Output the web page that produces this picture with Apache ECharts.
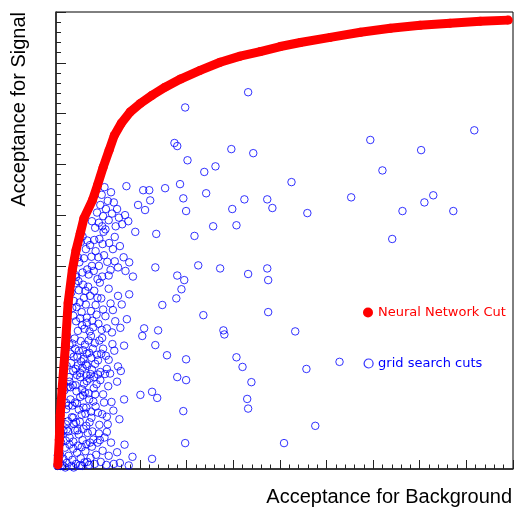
<!DOCTYPE html>
<html>
<head>
<meta charset="utf-8">
<script src="https://cdn.jsdelivr.net/npm/echarts@6/dist/echarts.min.js"></script>
<style>
  html, body { margin: 0; padding: 0; background: #fff; }
  #chart { width: 514px; height: 510px; }
</style>
</head>
<body>
<div id="chart"></div>
<script>
// ROC-style comparison: signal acceptance vs background acceptance.
const seriesNames = ['Neural Network Cut', 'grid search cuts'];
const xTitle = 'Acceptance for Background';
const yTitle = 'Acceptance for Signal';

// axis ranges (no tick labels are drawn)
const xRange = [0.02, 1.0];
const yRange = [0.1, 1.0];

// neural network working points [background acc, signal acc]
const nnCut = [
  [0.024,0.108],[0.027,0.157],[0.029,0.206],[0.033,0.256],[0.040,0.340],
  [0.046,0.427],[0.055,0.492],[0.063,0.531],[0.072,0.564],[0.080,0.594],
  [0.098,0.629],[0.109,0.659],[0.121,0.694],[0.134,0.728],[0.145,0.757],
  [0.160,0.781],[0.179,0.803],[0.201,0.820],[0.226,0.836],[0.254,0.852],
  [0.287,0.868],[0.329,0.885],[0.372,0.901],[0.415,0.913],[0.458,0.922],
  [0.501,0.932],[0.544,0.940],[0.608,0.950],[0.673,0.960],[0.737,0.968],
  [0.801,0.974],[0.865,0.978],[0.930,0.982],[0.990,0.984]
];

// grid search working points, sparse region
const gridCutsWide = [
  [0.432,0.842],[0.297,0.812],[0.917,0.767],[0.694,0.748],[0.274,0.742],[0.280,0.736],
  [0.396,0.730],[0.443,0.722],[0.803,0.728],[0.720,0.688],[0.302,0.708],[0.362,0.696],
  [0.338,0.685],[0.286,0.661],[0.254,0.653],[0.525,0.665],[0.207,0.649],[0.220,0.649],
  [0.171,0.657],[0.653,0.635],[0.829,0.639],[0.810,0.625],[0.424,0.631],[0.473,0.631],
  [0.342,0.643],[0.293,0.633],[0.222,0.629],[0.196,0.620],[0.299,0.608],[0.398,0.612],
  [0.484,0.614],[0.559,0.604],[0.763,0.608],[0.872,0.608],[0.357,0.578],[0.407,0.580],
  [0.741,0.553],[0.317,0.559],[0.235,0.563],[0.190,0.567],[0.211,0.610],[0.325,0.501],
  [0.372,0.495],[0.432,0.484],[0.473,0.495],[0.475,0.472],[0.233,0.497],[0.280,0.481],
  [0.295,0.472],[0.289,0.454],[0.278,0.436],[0.248,0.423],[0.475,0.409],[0.336,0.403],
  [0.379,0.373],[0.381,0.365],[0.533,0.371],[0.209,0.377],[0.205,0.362],[0.239,0.373],
  [0.233,0.344],[0.258,0.324],[0.299,0.316],[0.407,0.320],[0.420,0.301],[0.557,0.297],
  [0.628,0.311],[0.280,0.281],[0.299,0.275],[0.439,0.271],[0.226,0.252],[0.237,0.240],
  [0.201,0.246],[0.293,0.214],[0.430,0.238],[0.432,0.219],[0.576,0.185],[0.297,0.151],
  [0.509,0.151],[0.226,0.120]
];

// grid search working points, dense low-background region
const gridCutsDense = [
  [0.108,0.605],[0.115,0.620],[0.121,0.598],[0.127,0.612],[0.133,0.590],[0.140,0.603],
  [0.112,0.585],[0.119,0.578],[0.126,0.572],[0.148,0.578],[0.155,0.595],[0.162,0.582],
  [0.104,0.575],[0.118,0.640],[0.124,0.655],[0.131,0.628],[0.138,0.645],[0.168,0.600],
  [0.175,0.588],[0.097,0.588],[0.144,0.625],[0.151,0.612],
  [0.073,0.547],[0.077,0.558],[0.084,0.533],[0.087,0.550],[0.093,0.541],[0.096,0.518],
  [0.102,0.551],[0.105,0.529],[0.111,0.517],[0.113,0.553],[0.120,0.543],[0.123,0.521],
  [0.130,0.508],[0.134,0.545],[0.142,0.533],[0.146,0.509],[0.153,0.497],[0.157,0.539],
  [0.165,0.517],[0.169,0.490],[0.177,0.507],[0.067,0.517],[0.070,0.507],[0.077,0.487],
  [0.080,0.515],[0.087,0.493],[0.090,0.483],[0.097,0.500],[0.101,0.490],[0.109,0.474],
  [0.112,0.500],[0.119,0.479],[0.122,0.567],[0.133,0.481],[0.137,0.492],[0.185,0.479],
  [0.146,0.557],[0.061,0.482],[0.063,0.478],
  [0.053,0.448],[0.058,0.431],[0.061,0.466],[0.064,0.419],[0.069,0.452],[0.071,0.428],
  [0.075,0.409],[0.078,0.463],[0.080,0.437],[0.084,0.424],[0.086,0.398],[0.089,0.459],
  [0.093,0.441],[0.095,0.411],[0.098,0.392],[0.102,0.451],[0.105,0.423],[0.107,0.404],
  [0.111,0.386],[0.114,0.467],[0.117,0.436],[0.121,0.414],[0.126,0.401],[0.129,0.377],
  [0.133,0.455],[0.137,0.426],[0.142,0.413],[0.147,0.391],[0.153,0.441],[0.158,0.378],
  [0.161,0.424],[0.172,0.395],[0.177,0.444],[0.057,0.402],[0.063,0.391],[0.067,0.372],
  [0.072,0.397],[0.076,0.383],[0.081,0.376],[0.086,0.388],[0.092,0.371],[0.100,0.379],
  [0.118,0.374],[0.140,0.369],[0.055,0.417],[0.068,0.470],[0.083,0.451],[0.109,0.437],
  [0.044,0.362],[0.049,0.344],[0.051,0.327],[0.052,0.309],[0.057,0.293],[0.060,0.357],
  [0.061,0.337],[0.066,0.321],[0.067,0.304],[0.072,0.289],[0.073,0.352],[0.078,0.334],
  [0.079,0.317],[0.084,0.306],[0.085,0.284],[0.090,0.353],[0.091,0.329],[0.096,0.319],
  [0.097,0.296],[0.102,0.281],[0.103,0.348],[0.108,0.325],[0.110,0.314],[0.115,0.291],
  [0.119,0.358],[0.121,0.337],[0.127,0.323],[0.129,0.297],[0.136,0.288],[0.141,0.346],
  [0.145,0.333],[0.153,0.302],[0.159,0.293],[0.166,0.343],[0.043,0.303],[0.048,0.281],
  [0.058,0.321],[0.065,0.285],[0.074,0.312],[0.082,0.345],[0.087,0.303],[0.095,0.362],
  [0.104,0.307],[0.110,0.286],[0.117,0.327],[0.125,0.287],[0.133,0.315],[0.055,0.347],
  [0.062,0.297],[0.069,0.333],[0.077,0.299],[0.086,0.327],[0.094,0.287],[0.099,0.337],
  [0.113,0.353],
  [0.037,0.267],[0.038,0.255],[0.042,0.230],[0.042,0.218],[0.046,0.194],[0.049,0.272],
  [0.051,0.261],[0.051,0.237],[0.055,0.225],[0.057,0.201],[0.058,0.189],[0.062,0.265],
  [0.064,0.253],[0.065,0.229],[0.069,0.217],[0.071,0.193],[0.072,0.281],[0.076,0.257],
  [0.078,0.245],[0.079,0.221],[0.083,0.209],[0.085,0.185],[0.086,0.273],[0.090,0.249],
  [0.091,0.237],[0.095,0.213],[0.096,0.201],[0.101,0.259],[0.104,0.247],[0.105,0.223],
  [0.110,0.211],[0.113,0.187],[0.115,0.275],[0.121,0.247],[0.123,0.231],[0.129,0.203],
  [0.132,0.263],[0.139,0.232],[0.143,0.215],[0.151,0.272],[0.156,0.198],[0.166,0.237],
  [0.041,0.188],[0.047,0.225],[0.056,0.265],[0.063,0.192],[0.072,0.242],[0.080,0.268],
  [0.085,0.221],[0.092,0.192],[0.100,0.233],[0.107,0.267],[0.119,0.208],[0.131,0.188],
  [0.045,0.261],[0.054,0.202],[0.061,0.231],[0.075,0.207],[0.082,0.251],[0.092,0.278],
  [0.026,0.117],[0.029,0.128],[0.031,0.152],[0.031,0.166],[0.035,0.107],[0.036,0.120],
  [0.039,0.142],[0.041,0.156],[0.043,0.178],[0.043,0.112],[0.047,0.126],[0.049,0.148],
  [0.049,0.162],[0.053,0.106],[0.055,0.118],[0.057,0.140],[0.057,0.154],[0.061,0.176],
  [0.063,0.110],[0.065,0.132],[0.067,0.146],[0.069,0.168],[0.071,0.107],[0.073,0.121],
  [0.075,0.143],[0.077,0.157],[0.079,0.179],[0.081,0.113],[0.083,0.135],[0.085,0.149],
  [0.088,0.171],[0.091,0.108],[0.094,0.122],[0.097,0.144],[0.100,0.158],[0.103,0.110],
  [0.106,0.128],[0.109,0.152],[0.112,0.170],[0.116,0.114],[0.120,0.136],[0.124,0.162],
  [0.128,0.108],[0.133,0.126],[0.138,0.152],[0.144,0.110],[0.151,0.133],[0.157,0.112],
  [0.167,0.148],[0.176,0.107],[0.184,0.124],[0.036,0.176],[0.046,0.174],[0.066,0.176],
  [0.087,0.114],[0.098,0.174],[0.114,0.157],[0.129,0.173],[0.023,0.106],[0.024,0.127],
  [0.030,0.106],[0.040,0.103],[0.058,0.103],[0.076,0.106],[0.093,0.152]
];

const gridCuts = gridCutsWide.concat(gridCutsDense);

const RED = '#ff0000';
const BLUE = '#0000ff';
const AXIS = '#222222';

const chart = echarts.init(document.getElementById('chart'), null, { renderer: 'canvas' });

chart.setOption({
  animation: false,
  backgroundColor: '#ffffff',
  grid: {
    left: 56, top: 12, right: 1, bottom: 41,
    show: true, borderColor: '#000', borderWidth: 1, backgroundColor: 'transparent'
  },
  xAxis: [
    {
      // data axis, carries the short (minor) ticks
      type: 'value', min: xRange[0], max: xRange[1], interval: 0.02,
      position: 'bottom',
      axisLine: { show: true, onZero: false, lineStyle: { color: AXIS, width: 1.5 } },
      axisTick: { show: true, inside: true, length: 4.5, lineStyle: { color: AXIS, width: 1 } },
      axisLabel: { show: false }, splitLine: { show: false }
    },
    {
      // major ticks counted from the right-hand end
      type: 'value', inverse: true, min: 0, max: xRange[1] - xRange[0], interval: 0.1,
      position: 'bottom',
      axisLine: { show: false },
      axisTick: { show: true, inside: true, length: 9, lineStyle: { color: AXIS, width: 1 } },
      axisLabel: { show: false }, splitLine: { show: false }
    }
  ],
  yAxis: {
    type: 'value', min: yRange[0], max: yRange[1], interval: 0.1,
    axisLine: { show: true, onZero: false, lineStyle: { color: AXIS, width: 1.5 } },
    axisTick: { show: true, inside: true, length: 10, lineStyle: { color: AXIS, width: 1 } },
    minorTick: { show: true, splitNumber: 5, length: 5, lineStyle: { color: AXIS, width: 1 } },
    axisLabel: { show: false }, splitLine: { show: false }, minorSplitLine: { show: false }
  },
  legend: [
    {
      data: [{ name: seriesNames[0], icon: 'circle' }],
      left: 363, top: 306, padding: 0, itemWidth: 10, itemHeight: 10, selectedMode: false,
      textStyle: { color: RED, fontFamily: 'DejaVu Sans', fontSize: 13 }
    },
    {
      data: [{ name: seriesNames[1], icon: 'circle',
               itemStyle: { color: 'rgba(0,0,0,0)', borderColor: BLUE, borderWidth: 1.2 } }],
      left: 363.5, top: 357, padding: 0, itemWidth: 9, itemHeight: 9, selectedMode: false,
      textStyle: { color: BLUE, fontFamily: 'DejaVu Sans', fontSize: 13 }
    }
  ],
  graphic: [
    {
      type: 'text', x: 512, y: 497,
      style: { text: xTitle, font: '20px "Liberation Sans", Arial, sans-serif',
               fill: '#000', align: 'right', verticalAlign: 'middle' }
    },
    {
      type: 'text', x: 19, y: 12, rotation: Math.PI / 2,
      style: { text: yTitle, font: '20px "Liberation Sans", Arial, sans-serif',
               fill: '#000', align: 'right', verticalAlign: 'middle' }
    }
  ],
  series: [
    {
      name: seriesNames[1], type: 'scatter', data: gridCuts,
      xAxisIndex: 0, yAxisIndex: 0,
      symbol: 'circle', symbolSize: 7.5,
      itemStyle: { color: 'rgba(0,0,0,0)', borderColor: BLUE, borderWidth: 1 },
      z: 2
    },
    {
      name: seriesNames[0], type: 'line', data: nnCut,
      xAxisIndex: 0, yAxisIndex: 0,
      symbol: 'circle', symbolSize: 9, showSymbol: true,
      lineStyle: { color: RED, width: 9 },
      itemStyle: { color: RED },
      z: 3
    }
  ]
});
</script>
</body>
</html>
